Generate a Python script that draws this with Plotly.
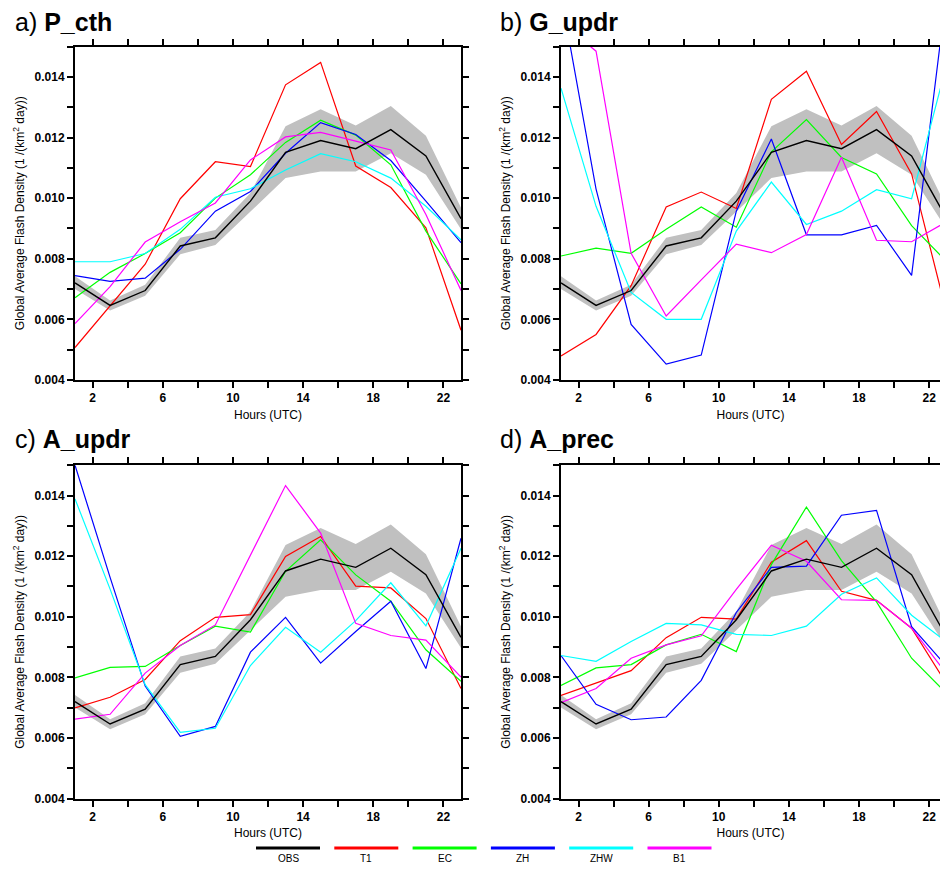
import plotly.graph_objects as go

# ---------------- data ----------------
HOURS = [1, 3, 5, 7, 9, 11, 13, 15, 17, 19, 21, 23]

OBS    = [0.00720, 0.00646, 0.00695, 0.00842, 0.00869, 0.00990, 0.01151, 0.01190, 0.01163, 0.01226, 0.01139, 0.00932]
OBS_HI = [0.00742, 0.00662, 0.00714, 0.00869, 0.00895, 0.01017, 0.01237, 0.01293, 0.01240, 0.01304, 0.01206, 0.00968]
OBS_LO = [0.00700, 0.00629, 0.00678, 0.00815, 0.00845, 0.00957, 0.01066, 0.01088, 0.01088, 0.01148, 0.01077, 0.00897]

# a) P_cth
PCTH_T1  = [0.00507, 0.00646, 0.00782, 0.00998, 0.01120, 0.01104, 0.01374, 0.01448, 0.01106, 0.01035, 0.00902, 0.00564]
PCTH_EC  = [0.00671, 0.00755, 0.00817, 0.00886, 0.01000, 0.01077, 0.01184, 0.01257, 0.01208, 0.01110, 0.00891, 0.00717]
PCTH_ZH  = [0.00744, 0.00725, 0.00736, 0.00831, 0.00957, 0.01022, 0.01148, 0.01249, 0.01210, 0.01124, 0.00990, 0.00853]
PCTH_ZHW = [0.00790, 0.00790, 0.00817, 0.00897, 0.01003, 0.01031, 0.01093, 0.01147, 0.01120, 0.01066, 0.00973, 0.00862]
PCTH_B1  = [0.00586, 0.00708, 0.00855, 0.00922, 0.00984, 0.01126, 0.01202, 0.01217, 0.01188, 0.01159, 0.00946, 0.00695]

# b) G_updr
GUPDR_T1  = [0.00479, 0.00550, 0.00711, 0.00971, 0.01020, 0.00966, 0.01326, 0.01419, 0.01177, 0.01286, 0.01080, 0.00620]
GUPDR_EC  = [0.00809, 0.00835, 0.00818, 0.00897, 0.00971, 0.00904, 0.01153, 0.01259, 0.01134, 0.01080, 0.00909, 0.00790]
GUPDR_ZH  = [0.01670, 0.01030, 0.00583, 0.00452, 0.00482, 0.00957, 0.01195, 0.00879, 0.00879, 0.00910, 0.00745, 0.01684]
GUPDR_ZHW = [0.01363, 0.00973, 0.00689, 0.00600, 0.00600, 0.00891, 0.01053, 0.00913, 0.00957, 0.01028, 0.00998, 0.01441]
GUPDR_B1  = [0.01580, 0.01485, 0.00818, 0.00611, 0.00730, 0.00848, 0.00820, 0.00880, 0.01135, 0.00861, 0.00856, 0.00922]

# c) A_updr
AUPDR_T1  = [0.00699, 0.00734, 0.00793, 0.00921, 0.00998, 0.01007, 0.01199, 0.01265, 0.01101, 0.01095, 0.00994, 0.00763]
AUPDR_EC  = [0.00798, 0.00833, 0.00836, 0.00905, 0.00969, 0.00949, 0.01150, 0.01254, 0.01138, 0.01051, 0.00891, 0.00787]
AUPDR_ZH  = [0.01500, 0.01130, 0.00771, 0.00605, 0.00638, 0.00883, 0.00998, 0.00847, 0.00951, 0.01051, 0.00829, 0.01259]
AUPDR_ZHW = [0.01389, 0.01091, 0.00776, 0.00618, 0.00632, 0.00839, 0.00965, 0.00883, 0.00987, 0.01112, 0.00970, 0.01226]
AUPDR_B1  = [0.00662, 0.00678, 0.00814, 0.00905, 0.00973, 0.01202, 0.01433, 0.01276, 0.00978, 0.00938, 0.00923, 0.00801]

# d) A_prec
APREC_T1  = [0.00740, 0.00782, 0.00822, 0.00931, 0.00998, 0.00992, 0.01180, 0.01251, 0.01084, 0.01054, 0.00962, 0.00778]
APREC_EC  = [0.00773, 0.00831, 0.00842, 0.00907, 0.00942, 0.00885, 0.01172, 0.01362, 0.01185, 0.01049, 0.00863, 0.00746]
APREC_ZH  = [0.00872, 0.00711, 0.00660, 0.00669, 0.00790, 0.01014, 0.01163, 0.01167, 0.01335, 0.01351, 0.00967, 0.00836]
APREC_ZHW = [0.00872, 0.00853, 0.00918, 0.00978, 0.00973, 0.00942, 0.00938, 0.00969, 0.01074, 0.01128, 0.01005, 0.00916]
APREC_B1  = [0.00716, 0.00763, 0.00863, 0.00907, 0.00937, 0.01090, 0.01236, 0.01183, 0.01056, 0.01054, 0.00962, 0.00811]

SERIES_NAMES = ["OBS", "T1", "EC", "ZH", "ZHW", "B1"]
SERIES_COLORS = ["#000000", "#ff0000", "#00ff00", "#0000ff", "#00ffff", "#ff00ff"]

PANEL_LETTERS = ["a)", "b)", "c)", "d)"]
PANEL_NAMES = ["P_cth", "G_updr", "A_updr", "A_prec"]
PANEL_DATA = [
    [PCTH_T1, PCTH_EC, PCTH_ZH, PCTH_ZHW, PCTH_B1],
    [GUPDR_T1, GUPDR_EC, GUPDR_ZH, GUPDR_ZHW, GUPDR_B1],
    [AUPDR_T1, AUPDR_EC, AUPDR_ZH, AUPDR_ZHW, AUPDR_B1],
    [APREC_T1, APREC_EC, APREC_ZH, APREC_ZHW, APREC_B1],
]

X_TICKS = [2, 4, 6, 8, 10, 12, 14, 16, 18, 20, 22]
X_TICKTEXT = ["2", "", "6", "", "10", "", "14", "", "18", "", "22"]
Y_TICKS = [0.004, 0.005, 0.006, 0.007, 0.008, 0.009, 0.010, 0.011, 0.012, 0.013, 0.014, 0.015]
Y_TICKTEXT = ["0.004", "", "0.006", "", "0.008", "", "0.010", "", "0.012", "", "0.014", ""]

# ---------------- layout geometry (pixels) ----------------
W, H = 940, 869
FONT = "Liberation Sans"
# panel boxes: (left, right, top, bottom, xmax)
BOXES = [
    (75, 461, 47, 383, 23.0),
    (561, 940, 47, 383, 22.62),
    (75, 461, 469, 805, 23.0),
    (561, 940, 469, 805, 22.62),
]
TITLE_POS = [(13, 22), (498, 22), (13, 443), (498, 443)]

fig = go.Figure()
layout = dict(
    width=W, height=H, margin=dict(l=0, r=0, t=0, b=0),
    paper_bgcolor="white", plot_bgcolor="white", showlegend=False,
    font=dict(family=FONT, color="black"),
)
annotations = []
shapes = []

for i in range(4):
    left, right, top, bottom, xmax = BOXES[i]
    xa = "x" if i == 0 else f"x{i+1}"
    ya = "y" if i == 0 else f"y{i+1}"
    xkey = "xaxis" if i == 0 else f"xaxis{i+1}"
    ykey = "yaxis" if i == 0 else f"yaxis{i+1}"
    full_box = right < W

    # OBS spread band
    fig.add_trace(go.Scatter(x=HOURS, y=OBS_HI, mode="lines", line=dict(width=0, color="#c0c0c0"),
                             xaxis=xa, yaxis=ya, hoverinfo="skip"))
    fig.add_trace(go.Scatter(x=HOURS, y=OBS_LO, mode="lines", line=dict(width=0, color="#c0c0c0"),
                             fill="tonexty", fillcolor="#c0c0c0", xaxis=xa, yaxis=ya, hoverinfo="skip"))
    # model series
    for s, vals in enumerate(PANEL_DATA[i]):
        fig.add_trace(go.Scatter(x=HOURS, y=vals, mode="lines", name=SERIES_NAMES[s + 1],
                                 line=dict(color=SERIES_COLORS[s + 1], width=1.2),
                                 xaxis=xa, yaxis=ya))
    # OBS line
    fig.add_trace(go.Scatter(x=HOURS, y=OBS, mode="lines", name="OBS",
                             line=dict(color="black", width=1.4), xaxis=xa, yaxis=ya))

    layout[xkey] = dict(
        domain=[left / W, right / W], range=[1, xmax], anchor=ya,
        tickvals=X_TICKS, ticktext=X_TICKTEXT, ticks="outside", ticklen=6, tickwidth=1.5,
        tickcolor="black", showline=True, linewidth=2, linecolor="black", mirror="ticks",
        showgrid=False, zeroline=False,
        tickfont=dict(family=FONT, size=12, color="black", weight="bold"),
        title=dict(text="Hours (UTC)", font=dict(family=FONT, size=12), standoff=6),
    )
    layout[ykey] = dict(
        domain=[1 - bottom / H, 1 - top / H], range=[0.004, 0.015], anchor=xa,
        tickvals=Y_TICKS, ticktext=Y_TICKTEXT, ticks="outside", ticklen=6, tickwidth=1.5,
        tickcolor="black", showline=True, linewidth=2, linecolor="black",
        mirror="ticks" if full_box else False,
        showgrid=False, zeroline=False,
        tickfont=dict(family=FONT, size=12, color="black", weight="bold"),
        title=dict(text="Global Average Flash Density (1 /(km<sup>2</sup> day))",
                   font=dict(family=FONT, size=12), standoff=7),
    )

    tx, ty = TITLE_POS[i]
    annotations.append(dict(
        text=f"{PANEL_LETTERS[i]} <b>{PANEL_NAMES[i]}</b>", xref="paper", yref="paper",
        x=tx / W, y=1 - ty / H, xanchor="left", yanchor="middle", showarrow=False,
        font=dict(family=FONT, size=25, color="black"),
    ))

# legend row at the bottom (lines with labels below)
LEG_X0, LEG_STEP, LEG_LEN = 256, 78.3, 64
LEG_LINE_Y, LEG_TEXT_Y = 855, 865
for k, (nm, col) in enumerate(zip(SERIES_NAMES, SERIES_COLORS)):
    x0 = LEG_X0 + k * LEG_STEP
    shapes.append(dict(type="line", xref="paper", yref="paper",
                       x0=x0 / W, x1=(x0 + LEG_LEN) / W, y0=1 - LEG_LINE_Y / H, y1=1 - LEG_LINE_Y / H,
                       line=dict(color=col, width=3)))
    annotations.append(dict(text=nm, xref="paper", yref="paper", x=(x0 + LEG_LEN / 2) / W,
                            y=1 - LEG_TEXT_Y / H, xanchor="center", yanchor="middle", showarrow=False,
                            font=dict(family=FONT, size=10, color="black")))

layout["annotations"] = annotations
layout["shapes"] = shapes
fig.update_layout(**layout)
fig.write_html("out.html", config={"displayModeBar": False},
               post_script="document.body.style.margin='0';document.body.style.overflow='hidden';")
